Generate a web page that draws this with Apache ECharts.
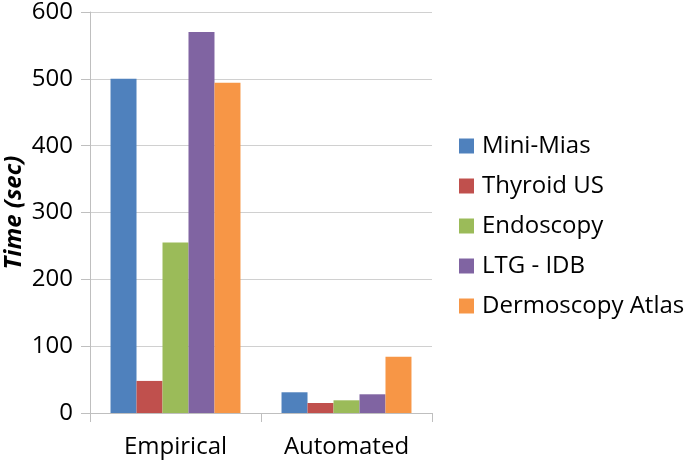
<!DOCTYPE html>
<html><head><meta charset="utf-8">
<script src="https://cdn.jsdelivr.net/npm/echarts@6/dist/echarts.min.js"></script>
<style>html,body{margin:0;padding:0;background:#fff}#c{width:685px;height:464px}</style>
</head><body><div id="c"></div>
<script>
const categories = ['Empirical', 'Automated'];
const seriesNames = ['Mini-Mias', 'Thyroid US', 'Endoscopy', 'LTG - IDB', 'Dermoscopy Atlas'];
const miniMias = [500, 31];
const thyroidUS = [48, 15];
const endoscopy = [255, 19];
const ltgIdb = [570, 28];
const dermoscopyAtlas = [494, 84];
const yTicks = [0, 100, 200, 300, 400, 500, 600];
const colors = ['#4F81BD', '#C0504D', '#9BBB59', '#8064A2', '#F79646'];
const values = [miniMias, thyroidUS, endoscopy, ltgIdb, dermoscopyAtlas];
const font = '"Open Sans", Lato, sans-serif';

const chart = echarts.init(document.getElementById('c'), null, {renderer: 'canvas'});
chart.setOption({
  animation: false,
  backgroundColor: '#fff',
  grid: {left: 90, right: 253, top: 11, bottom: 51, containLabel: false},
  legend: {
    orient: 'vertical', left: 454, top: 129,
    itemWidth: 15, itemHeight: 15, itemGap: 16,
    icon: 'rect',
    textStyle: {fontFamily: font, fontSize: 24, color: '#000', lineHeight: 24, padding: [0,0,0,3]},
    data: seriesNames
  },
  xAxis: {
    type: 'category', data: categories,
    axisLine: {show: true, lineStyle: {color: '#bfbfbf', width: 1}},
    axisTick: {show: true, length: 9, lineStyle: {color: '#bfbfbf'}},
    axisLabel: {fontFamily: font, fontSize: 24, color: '#000', margin: 22}
  },
  yAxis: {
    type: 'value', min: yTicks[0], max: yTicks[yTicks.length-1], interval: 100,
    name: 'Time (sec)', nameLocation: 'middle', nameGap: 64, nameRotate: 90,
    nameTextStyle: {fontFamily: font, fontSize: 24, fontWeight: 'bold', fontStyle: 'italic', color: '#000'},
    axisLine: {show: true, lineStyle: {color: '#bfbfbf', width: 1}},
    axisTick: {show: true, length: 9, lineStyle: {color: '#bfbfbf'}},
    axisLabel: {fontFamily: font, fontSize: 24, color: '#000', margin: 17},
    splitLine: {show: true, lineStyle: {color: '#d0d0d0', width: 1}}
  },
  series: seriesNames.map((n, i) => ({
    name: n, type: 'bar', data: values[i],
    itemStyle: {color: colors[i]},
    barGap: '0%', barCategoryGap: '24%'
  }))
});
</script></body></html>
